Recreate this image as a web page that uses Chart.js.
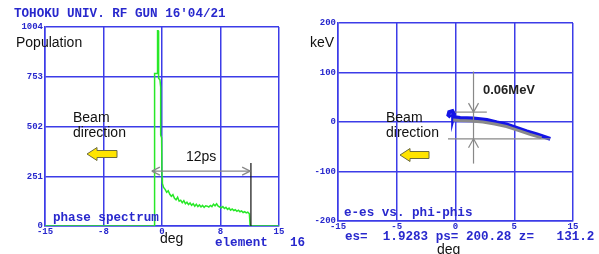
<!DOCTYPE html>
<html>
<head>
<meta charset="utf-8">
<script src="https://cdn.jsdelivr.net/npm/chart.js@4.4.1/dist/chart.umd.min.js"></script>
<style>
html, body { margin: 0; padding: 0; background: #fff; overflow: hidden; }
#wrap { position: relative; width: 599px; height: 254px; }
canvas { position: absolute; top: 0; }
#left { left: 0; }
#right { left: 300px; }
</style>
</head>
<body>
<div id="wrap">
  <canvas id="left" width="320" height="254"></canvas>
  <canvas id="right" width="299" height="254"></canvas>
</div>
<script>
// phase spectrum (left panel)
const phaseX = [-15, -0.95, -0.95, -0.6, -0.57, -0.5, -0.47, -0.4, -0.26, -0.17, -0.17, -0.05, 0.0,
  0.05, 0.2, 0.4, 0.6, 0.8, 1.0, 1.2, 1.4, 1.6, 1.8, 2.0, 2.2, 2.4, 2.6, 2.8, 3.0, 3.2, 3.4, 3.6, 3.8,
  4.0, 4.2, 4.4, 4.6, 4.8, 5.0, 5.2, 5.4, 5.6, 5.8, 6.0, 6.2, 6.4, 6.6, 6.8, 7.0, 7.2, 7.4, 7.6, 7.8,
  8.0, 8.2, 8.4, 8.6, 8.8, 9.0, 9.2, 9.4, 9.6, 9.8, 10.0, 10.2, 10.4, 10.6, 10.8, 11.0, 11.2, 11.3, 15];
const phasePop = [0, 0, 770, 770, 985, 985, 760, 745, 737, 700, 459, 445, 242,
  215, 195, 185, 170, 178, 160, 150, 158, 140, 132, 145, 125, 130, 118, 128, 112, 120, 108, 116, 104,
  112, 100, 110, 98, 106, 96, 104, 94, 102, 100, 96, 104, 98, 110, 102, 112, 100, 96, 92, 98,
  88, 94, 84, 90, 80, 86, 78, 82, 74, 80, 72, 76, 68, 72, 66, 70, 62, 0, 0];
const phaseTickLabels = { '-15': '-15', '-7.5': '-8', '0': '0', '7.5': '8', '15': '15' };

// e-es vs phi-phis (right panel)
const energyX = [-0.6, -0.9, -0.8, -0.4, -0.2, -0.3, 0.6, 2.3, 4.0, 5.3, 6.5, 7.8, 9.1, 10.4, 12.1];
const energyY = [10, 14, 20, 22, 16, 10, 8, 7, 4, -1, -5, -12, -19, -25, -34];
const shadowX = [-0.3, 0.5, 2.0, 3.5, 5.0, 6.5, 8.0, 9.5, 11.0];
const shadowY = [4, 3, 2, 0, -4, -9, -17, -25, -32];
const energyTickLabels = { '-15': '-15', '-7.5': '-5', '0': '0', '7.5': '5', '15': '15' };

const BLUE = 'rgb(60,60,232)';
const TXT_BLUE = 'rgb(40,40,205)';
const MONO = '"Liberation Mono", "DejaVu Sans Mono", monospace';
const SANS = '"Liberation Sans", Arial, sans-serif';

function pts(xs, ys) { return xs.map((x, i) => ({ x: x, y: ys[i] })); }

function yellowArrow(ctx, x0, x1, cy) {
  ctx.save();
  ctx.beginPath();
  ctx.moveTo(x0, cy);
  ctx.lineTo(x0 + 10, cy - 6.5);
  ctx.lineTo(x0 + 10, cy - 3.5);
  ctx.lineTo(x1, cy - 3.5);
  ctx.lineTo(x1, cy + 3.5);
  ctx.lineTo(x0 + 10, cy + 3.5);
  ctx.lineTo(x0 + 10, cy + 6.5);
  ctx.closePath();
  ctx.fillStyle = '#ffe400';
  ctx.fill();
  ctx.strokeStyle = '#6b6b40';
  ctx.lineWidth = 1;
  ctx.stroke();
  ctx.restore();
}

function text(ctx, s, x, y, font, color) {
  ctx.font = font;
  ctx.fillStyle = color;
  ctx.textBaseline = 'middle';
  ctx.textAlign = 'left';
  ctx.fillText(s, x, y);
}

function line(ctx, x0, y0, x1, y1, color, w) {
  ctx.beginPath();
  ctx.moveTo(x0, y0);
  ctx.lineTo(x1, y1);
  ctx.strokeStyle = color;
  ctx.lineWidth = w;
  ctx.stroke();
}

function scales(xLabels, yMin, yMax, yStep, yWidth, xHeight) {
  return {
    x: {
      type: 'linear', min: -15, max: 15,
      grid: { color: BLUE, lineWidth: 1.5, drawTicks: false },
      border: { color: BLUE, width: 1.5 },
      ticks: {
        stepSize: 7.5, autoSkip: false, maxRotation: 0, padding: 0,
        color: TXT_BLUE, font: { family: MONO, size: 9, weight: 'bold' },
        callback: v => xLabels[String(v)]
      },
      afterFit: s => { s.height = xHeight; }
    },
    y: {
      min: yMin, max: yMax,
      grid: { color: BLUE, lineWidth: 1.5, drawTicks: false },
      border: { color: BLUE, width: 1.5 },
      ticks: {
        stepSize: yStep, autoSkip: false, padding: 2,
        color: TXT_BLUE, font: { family: MONO, size: 9, weight: 'bold' },
        callback: v => String(v)
      },
      afterFit: s => { s.width = yWidth; }
    }
  };
}

const leftOverlay = {
  id: 'leftOverlay',
  afterDraw(chart) {
    const ctx = chart.ctx;
    const sx = chart.scales.x, sy = chart.scales.y;
    ctx.save();
    // 12ps marker
    const xe = sx.getPixelForValue(11.4);
    line(ctx, xe, sy.getPixelForValue(0), xe, sy.getPixelForValue(318), '#111', 1.2);
    const ya = sy.getPixelForValue(277);
    const xa0 = sx.getPixelForValue(-1.3), xa1 = sx.getPixelForValue(11.3);
    line(ctx, xa0, ya, xa1, ya, '#888', 1.2);
    line(ctx, xa0, ya, xa0 + 8, ya - 4, '#888', 1.2);
    line(ctx, xa0, ya, xa0 + 8, ya + 4, '#888', 1.2);
    line(ctx, xa1, ya, xa1 - 8, ya - 4, '#888', 1.2);
    line(ctx, xa1, ya, xa1 - 8, ya + 4, '#888', 1.2);

    text(ctx, "TOHOKU UNIV. RF GUN 16'04/21", 14, 14, 'bold 12.6px ' + MONO, TXT_BLUE);
    text(ctx, 'Population', 16, 43, '14px ' + SANS, '#111');
    text(ctx, 'Beam', 73, 118, '14px ' + SANS, '#111');
    text(ctx, 'direction', 73, 133, '14px ' + SANS, '#111');
    yellowArrow(ctx, 87, 117, 154);
    text(ctx, '12ps', 186, 157, '14px ' + SANS, '#111');
    text(ctx, 'phase spectrum', 53, 218, 'bold 12.6px ' + MONO, TXT_BLUE);
    text(ctx, 'deg', 160, 239, '14px ' + SANS, '#111');
    text(ctx, 'element', 215, 243, 'bold 12.6px ' + MONO, TXT_BLUE);
    text(ctx, '16', 290, 243, 'bold 12.6px ' + MONO, TXT_BLUE);
    ctx.restore();
  }
};

const rightOverlay = {
  id: 'rightOverlay',
  afterDraw(chart) {
    const ctx = chart.ctx;
    const sx = chart.scales.x, sy = chart.scales.y;
    ctx.save();
    // 0.06MeV marker
    const yTop = sy.getPixelForValue(20), yBot = sy.getPixelForValue(-34);
    line(ctx, sx.getPixelForValue(-0.06), yTop, sx.getPixelForValue(4.0), yTop, '#888', 1.2);
    line(ctx, sx.getPixelForValue(-0.96), yBot, sx.getPixelForValue(12.06), yBot, '#888', 1.2);
    const xv = sx.getPixelForValue(2.3);
    line(ctx, xv, sy.getPixelForValue(102), xv, sy.getPixelForValue(-84), '#888', 1.2);
    line(ctx, xv, yTop, xv - 5, yTop - 9, '#888', 1.2);
    line(ctx, xv, yTop, xv + 5, yTop - 9, '#888', 1.2);
    line(ctx, xv, yBot, xv - 5, yBot + 9, '#888', 1.2);
    line(ctx, xv, yBot, xv + 5, yBot + 9, '#888', 1.2);

    text(ctx, 'keV', 10, 43, '14px ' + SANS, '#111');
    text(ctx, '0.06MeV', 183, 90, 'bold 13px ' + SANS, '#222');
    text(ctx, 'Beam', 86, 118, '14px ' + SANS, '#111');
    text(ctx, 'direction', 86, 133, '14px ' + SANS, '#111');
    yellowArrow(ctx, 100, 129, 155);
    text(ctx, 'e-es vs. phi-phis', 44, 213, 'bold 12.6px ' + MONO, TXT_BLUE);
    text(ctx, 'es=  1.9283 ps= 200.28 z=   131.2', 45, 237, 'bold 12.6px ' + MONO, TXT_BLUE);
    text(ctx, 'deg', 137, 250, '14px ' + SANS, '#111');
    ctx.restore();
  }
};

new Chart(document.getElementById('left'), {
  type: 'line',
  data: {
    datasets: [{
      data: pts(phaseX, phasePop),
      borderColor: 'rgb(40,232,40)',
      borderWidth: 1.5,
      pointRadius: 0,
      tension: 0
    }]
  },
  options: {
    responsive: false,
    animation: false,
    layout: { padding: { top: 27, right: 41, left: 0, bottom: 0 } },
    plugins: { legend: { display: false }, tooltip: { enabled: false } },
    scales: scales(phaseTickLabels, 0, 1004, 251, 45, 28)
  },
  plugins: [leftOverlay]
});

new Chart(document.getElementById('right'), {
  type: 'line',
  data: {
    datasets: [
      {
        data: pts(shadowX, shadowY),
        borderColor: '#8a8a8a', borderWidth: 3, pointRadius: 0, tension: 0
      },
      {
        data: pts(energyX, energyY),
        borderColor: 'rgb(20,20,230)', borderWidth: 4, pointRadius: 0, tension: 0
      },
      {
        data: [{ x: -0.25, y: 10 }],
        showLine: false, pointRadius: 1.5, pointBackgroundColor: 'rgb(40,220,40)', pointBorderWidth: 0
      },
      {
        data: [{ x: -0.1, y: 5 }],
        showLine: false, pointRadius: 1.5, pointBackgroundColor: 'rgb(230,30,30)', pointBorderWidth: 0
      }
    ]
  },
  options: {
    responsive: false,
    animation: false,
    layout: { padding: { top: 23, right: 26, left: 0, bottom: 0 } },
    plugins: { legend: { display: false }, tooltip: { enabled: false } },
    scales: scales(energyTickLabels, -200, 200, 100, 38, 33)
  },
  plugins: [rightOverlay]
});
</script>
</body>
</html>
